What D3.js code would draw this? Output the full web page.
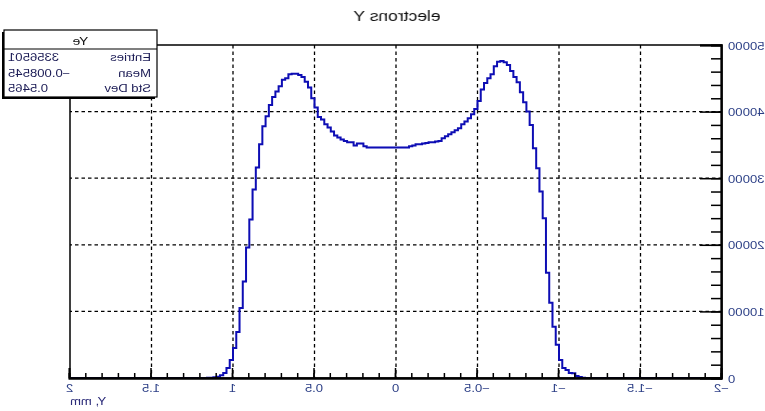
<!DOCTYPE html>
<html>
<head>
<meta charset="utf-8">
<script src="https://cdn.jsdelivr.net/npm/d3@7"></script>
<style>
  html, body { margin: 0; padding: 0; background: #fff; }
  svg { display: block; font-family: "Liberation Sans", Arial, Helvetica, sans-serif; }
</style>
</head>
<body>
<svg id="chart" width="765" height="411"></svg>
<script>
// Histogram of electron Y positions (200 bins over [-2, 2] mm)
const title = "electrons Y";
const xTitle = "Y, mm";
const xDomain = [-2, 2];
const yDomain = [0, 50000];
const binWidth = 0.02;
const firstBinLow = -1.18;   // lower edge of the first listed bin; all others are empty
const counts = [
  0, 50, 150, 300, 700, 750, 1200, 1500, 2700, 5000,
  7700, 11300, 15800, 24000, 28000, 31500, 34500, 38000, 40000, 41400,
  42900, 44400, 45200, 46100, 47000, 47400, 47600, 47500, 46800, 45600,
  45000, 44300, 43300, 41600, 40400, 39600, 39000, 38500, 38100, 37500,
  37200, 36900, 36600, 36300, 36000, 35600, 35500, 35400, 35400, 35300,
  35200, 35100, 35100, 34900, 34800,
  34600, 34600, 34600, 34600, 34600, 34600, 34600, 34600, 34600, 34600,
  34600, 34600, 34600,
  34800, 35200, 35200, 34900, 35400, 35400, 35600, 35800, 36100, 36400,
  37000, 37600, 38100, 38800, 39200, 40600, 42000, 43600, 44500, 45200,
  45500, 45700, 45700, 45600, 45000, 44800, 43800, 43000, 42200, 41000,
  39300, 37800, 35100, 31600, 28300, 23800, 19600, 14500, 10500, 6900,
  4500, 2700, 1500, 750, 400, 200, 100, 50, 30, 0
];
const xMajorTicks = [-2, -1.5, -1, -0.5, 0, 0.5, 1, 1.5, 2];
const xMinorTicks = d3.range(-20, 21).map(d => d / 10);
const yMajorTicks = [0, 10000, 20000, 30000, 40000, 50000];
const yMinorTicks = d3.range(0, 50001, 2000);
const statsName = "Ye";
const statsLabels = ["Entries", "Mean", "Std Dev"];
const statsValues = ["3356501", "\u22120.008545", "0.5465"];

const svg = d3.select("#chart");
const defs = svg.append("defs");
defs.append("filter").attr("id", "soft")
  .append("feGaussianBlur").attr("stdDeviation", 0.45);

// the whole picture is drawn mirrored left-to-right
const root = svg.append("g").attr("filter", "url(#soft)")
  .append("g").attr("transform", "translate(765,0) scale(-1,1)");

const x = d3.scaleLinear().domain(xDomain).range([43, 695]);
const y = d3.scaleLinear().domain(yDomain).range([378, 45]);
const textStretch = 1.25;
const fmt = d => (d < 0 ? "\u2212" : "") + Math.abs(d);

// grid
const grid = root.append("g").attr("stroke", "#000").attr("stroke-width", 1.3)
  .attr("stroke-dasharray", "3.5,3");
grid.selectAll("line.gx").data(xMajorTicks.slice(1, -1)).join("line")
  .attr("x1", d => x(d)).attr("x2", d => x(d)).attr("y1", y(yDomain[1])).attr("y2", y(0));
grid.selectAll("line.gy").data(yMajorTicks.slice(1, -1)).join("line")
  .attr("x1", x(xDomain[0])).attr("x2", x(xDomain[1])).attr("y1", d => y(d)).attr("y2", d => y(d));

// histogram outline
const pts = [[xDomain[0], 0]];
counts.forEach((c, i) => pts.push([firstBinLow + i * binWidth, c]));
pts.push([firstBinLow + counts.length * binWidth, 0]);
pts.push([xDomain[1], 0]);
const line = d3.line().x(d => x(d[0])).y(d => y(d[1])).curve(d3.curveStepAfter);
root.append("path").attr("d", line(pts)).attr("fill", "none")
  .attr("stroke", "#0c0cb4").attr("stroke-width", 2);

// frame
root.append("rect").attr("x", x(xDomain[0])).attr("y", y(yDomain[1]))
  .attr("width", x(xDomain[1]) - x(xDomain[0])).attr("height", y(0) - y(yDomain[1]))
  .attr("fill", "none").attr("stroke", "#000").attr("stroke-width", 1.5);

// axes
function styleAxis(g) {
  g.select(".domain").attr("stroke", "#000").attr("stroke-width", 1.8);
  g.selectAll(".tick line").attr("stroke", "#000").attr("stroke-width", 1.5);
}
const xAxisMinor = root.append("g").attr("transform", `translate(0,${y(0)})`)
  .call(d3.axisBottom(x).tickValues(xMinorTicks).tickSize(-5).tickFormat(""));
styleAxis(xAxisMinor);
const xAxis = root.append("g").attr("transform", `translate(0,${y(0)})`)
  .call(d3.axisBottom(x).tickValues(xMajorTicks).tickSize(-10).tickPadding(4).tickFormat(fmt));
styleAxis(xAxis);
xAxis.selectAll(".tick text").attr("y", null).attr("dy", null)
  .attr("transform", `translate(0,13.5) scale(${textStretch},1)`)
  .attr("font-size", 10.5).attr("fill", "#2c3f86").attr("font-family", null);

const yAxisMinor = root.append("g").attr("transform", `translate(${x(xDomain[0])},0)`)
  .call(d3.axisLeft(y).tickValues(yMinorTicks).tickSize(-11).tickFormat(""));
styleAxis(yAxisMinor);
const yAxis = root.append("g").attr("transform", `translate(${x(xDomain[0])},0)`)
  .call(d3.axisLeft(y).tickValues(yMajorTicks).tickSize(-22).tickFormat(d3.format("d")));
styleAxis(yAxis);
yAxis.selectAll(".tick text").attr("x", null).attr("dy", null)
  .attr("transform", `translate(-6,4) scale(${textStretch},1)`)
  .attr("font-size", 10.5).attr("fill", "#2c3f86").attr("font-family", null);

// axis title and chart title
root.append("text").attr("transform", `translate(${x(xDomain[1])},405) scale(${textStretch},1)`)
  .attr("text-anchor", "end").attr("font-size", 10.5).attr("fill", "#2a2a78").text(xTitle);
root.append("text").attr("transform", `translate(368,21) scale(${textStretch},1)`)
  .attr("text-anchor", "middle").attr("font-size", 14).attr("fill", "#111").text(title);

// statistics box
const box = { x0: 608, y0: 30, x1: 761, y1: 97, head: 49 };
const stats = root.append("g");
stats.append("rect").attr("x", box.x0 + 2).attr("y", box.y0 + 2)
  .attr("width", box.x1 - box.x0).attr("height", box.y1 - box.y0).attr("fill", "#000");
stats.append("rect").attr("x", box.x0).attr("y", box.y0)
  .attr("width", box.x1 - box.x0).attr("height", box.y1 - box.y0)
  .attr("fill", "#fff").attr("stroke", "#000").attr("stroke-width", 1.2);
stats.append("line").attr("x1", box.x0).attr("x2", box.x1).attr("y1", box.head).attr("y2", box.head)
  .attr("stroke", "#000").attr("stroke-width", 1.2);
stats.append("text").attr("transform", `translate(${(box.x0 + box.x1) / 2},45) scale(${textStretch},1)`)
  .attr("text-anchor", "middle").attr("font-size", 11).attr("fill", "#111").text(statsName);
const rowY = [61, 77, 92];
statsLabels.forEach((s, i) => {
  stats.append("text").attr("transform", `translate(614,${rowY[i]}) scale(${textStretch},1)`)
    .attr("font-size", 10.5).attr("fill", "#1b1b55").text(s);
  stats.append("text").attr("transform", `translate(757,${rowY[i]}) scale(${textStretch},1)`)
    .attr("text-anchor", "end").attr("font-size", 10.5).attr("fill", "#1b1b55").text(statsValues[i]);
});
</script>
</body>
</html>
